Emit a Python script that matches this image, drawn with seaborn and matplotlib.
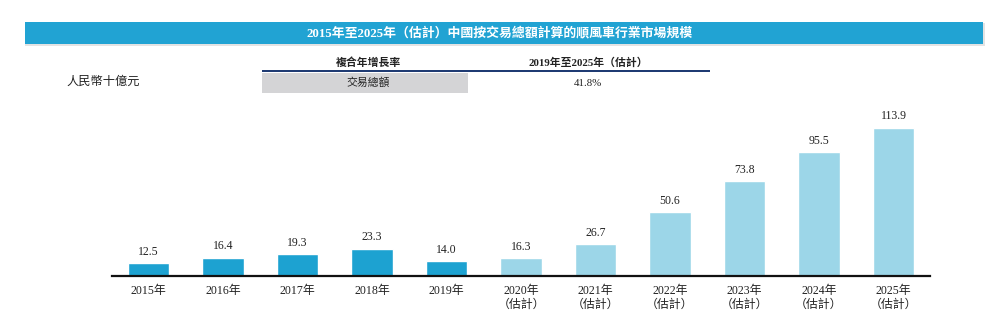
import matplotlib
matplotlib.use("Agg")
import matplotlib.pyplot as plt
import seaborn as sns
import pandas as pd
from matplotlib.patches import Rectangle

years = ["2015年", "2016年", "2017年", "2018年", "2019年", "2020年\n（估計）", "2021年\n（估計）",
         "2022年\n（估計）", "2023年\n（估計）", "2024年\n（估計）", "2025年\n（估計）"]
values = [12.5, 16.4, 19.3, 23.3, 14.0, 16.3, 26.7, 50.6, 73.8, 95.5, 113.9]
kind = ["actual"] * 5 + ["estimate"] * 6
value_labels = ["12.5", "16.4", "19.3", "23.3", "14.0", "16.3", "26.7", "50.6", "73.8", "95.5", "113.9"]

title = "2015年至2025年（估計）中國按交易總額計算的順風車行業市場規模"
unit = "人民幣十億元"
cagr_header = ["複合年增長率", "2019年至2025年（估計）"]
cagr_row = ["交易總額", "41.8%"]

sns.set_theme(style="white")
FONT = ["Liberation Serif", "Noto Sans CJK TC", "DejaVu Sans"]
plt.rcParams["font.family"] = FONT

DARK = "#1da2d1"
LIGHT = "#9cd6e8"

df = pd.DataFrame({"year": years, "value": values, "kind": kind})

fig = plt.figure(figsize=(10, 3.26), dpi=100)
W, H = 1000, 326

def fx(px):
    return px / W

def fy(py):
    return 1 - py / H

# Title banner
fig.patches.append(Rectangle((fx(25), fy(46)), fx(960), 23 / H, transform=fig.transFigure,
                             facecolor="#c8c8c8", edgecolor="none", alpha=0.5, zorder=0))
fig.patches.append(Rectangle((fx(25), fy(44)), fx(958), 22 / H, transform=fig.transFigure,
                             facecolor="#21a3d3", edgecolor="none", zorder=1))
fig.text(fx(500), fy(33), title, color="white", fontsize=9.3, fontweight="bold",
         ha="center", va="center", zorder=2)

# Unit label
fig.text(fx(66), fy(82), unit, fontsize=8.8, ha="left", va="center", color="#222222")

# CAGR table
fig.text(fx(368), fy(63), cagr_header[0], fontsize=7.8, fontweight="bold", ha="center", va="center", color="#222222")
fig.text(fx(588), fy(63), cagr_header[1], fontsize=7.8, fontweight="bold", ha="center", va="center", color="#222222")
fig.patches.append(Rectangle((fx(262), fy(72.5)), fx(448), 2.5 / H, transform=fig.transFigure,
                             facecolor="#1f3b73", edgecolor="none"))
fig.patches.append(Rectangle((fx(262), fy(93)), fx(206), 20.5 / H, transform=fig.transFigure,
                             facecolor="#d4d4d6", edgecolor="none"))
fig.text(fx(368), fy(83), cagr_row[0], fontsize=7.8, ha="center", va="center", color="#222222")
fig.text(fx(588), fy(83), cagr_row[1], fontsize=7.8, ha="center", va="center", color="#222222")

# Bar chart
ax = fig.add_axes([fx(112), fy(275.5), fx(818), 156 / H])
sns.barplot(data=df, x="year", y="value", hue="kind", palette={"actual": DARK, "estimate": LIGHT},
            width=0.56, dodge=False, legend=False, ax=ax, saturation=1)
ax.set_xlim(-0.49, 10.49)
ax.set_ylim(3.3, 119.9)
ax.set_xlabel("")
ax.set_ylabel("")
ax.set_yticks([])
for s in ["top", "left", "right"]:
    ax.spines[s].set_visible(False)
ax.spines["bottom"].set_color("#111111")
ax.spines["bottom"].set_linewidth(1.6)
ax.tick_params(axis="x", length=0, labelsize=8.6, pad=7, colors="#222222")
for lbl in ax.get_xticklabels():
    lbl.set_linespacing(1.15)
ax.patch.set_alpha(0)

for i, (v, t) in enumerate(zip(values, value_labels)):
    ax.annotate(t, (i, v), xytext=(0, 4), textcoords="offset points", ha="center", va="bottom",
                fontsize=8.5, color="#222222")

fig.savefig("out.png", dpi=100)
